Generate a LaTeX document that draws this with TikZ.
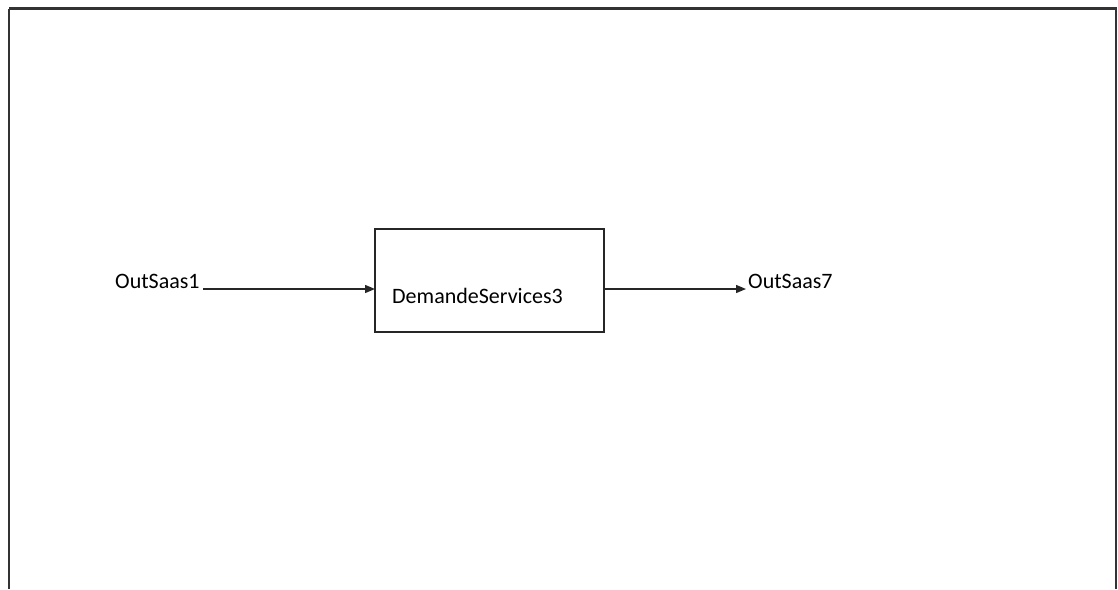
\documentclass[tikz,border=0pt]{standalone}
\usepackage{fontspec}
\setmainfont{Carlito}
\usetikzlibrary{arrows.meta}
\begin{document}
\begin{tikzpicture}[x=1pt,y=-1pt,
  lbl/.style={inner sep=0pt,font=\fontsize{22}{26}\selectfont},
  flow/.style={draw=black!85,line width=1.4pt,-{Triangle[length=10pt,width=8pt]}},
  procbox/.style={draw=black!85,line width=1.4pt}]
\useasboundingbox (0,0) rectangle (1118,589);
% outer frame
\draw[black!80,line width=2.5pt] (9,8.5) -- (1116,8.5) -- (1116,589);
\draw[black!80,line width=2.5pt] (9,8.5) -- (9,589);
% process box
\draw[procbox] (375,229) rectangle (604,332);
\coordinate (boxW) at (375,289);
\coordinate (boxE) at (604,289);
\node[lbl,anchor=west] (proc) at (392,296) {DemandeServices3};
% inputs and outputs
\node[lbl,anchor=west] (in) at (115,281) {OutSaas1};
\node[lbl,anchor=west] (out) at (748,281) {OutSaas7};
\draw[flow] (203,289) -- (boxW);
\draw[flow] (boxE) -- (746,289);
\end{tikzpicture}
\end{document}
